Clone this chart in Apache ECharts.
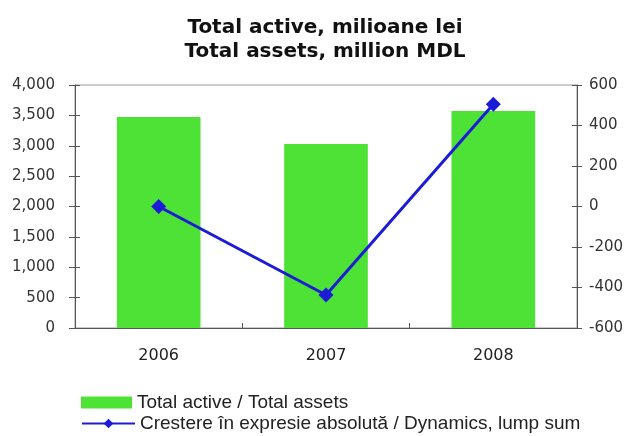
<!DOCTYPE html>
<html><head><meta charset="utf-8">
<script src="https://cdn.jsdelivr.net/npm/echarts@6/dist/echarts.min.js"></script>
<style>html,body{margin:0;padding:0;background:#fff}#c{width:632px;height:436px}</style>
</head><body><div id="c"></div>
<script>
const categories = ['2006', '2007', '2008'];
const totalAssets = [3475, 3030, 3570];
const dynamics = [0, -437, 505];
const leftTicks = { min: 0, max: 4000, interval: 500 };
const rightTicks = { min: -600, max: 600, interval: 200 };
const barName = 'Total active / Total assets';
const lineName = 'Crestere în expresie absolută / Dynamics, lump sum';

const chart = echarts.init(document.getElementById('c'));
const font = 'DejaVu Sans, Verdana, sans-serif';
const legendFont = 'Liberation Sans, Arial, sans-serif';
const axisCol = '#555';
const tickOnly = (pos, t) => ({
  type: 'value', min: t.min, max: t.max, interval: t.interval, position: pos, offset: 0,
  splitLine: { show: false }, axisLabel: { show: false },
  axisLine: { show: false, onZero: false },
  axisTick: { show: true, inside: true, length: 5, lineStyle: { color: axisCol } }
});
const legendText = { fontFamily: legendFont, fontSize: 19, color: '#222' };
chart.setOption({
  animation: false,
  textStyle: { fontFamily: font },
  title: {
    text: 'Total active, milioane lei\nTotal assets, million MDL',
    left: 320, top: 11, textAlign: 'center',
    textStyle: { fontFamily: font, fontWeight: 'bold', fontSize: 20, lineHeight: 24, color: '#111' }
  },
  grid: { left: 75, right: 55, top: 85, bottom: 108, show: true, borderColor: '#999', borderWidth: 1 },
  legend: [
    {
      left: 76, top: 391, itemWidth: 51, itemHeight: 12, itemGap: 4, padding: [2, 5],
      textStyle: legendText, data: [{ name: barName, icon: 'rect' }]
    },
    {
      left: 76, top: 412, itemWidth: 53, itemHeight: 12, padding: [2, 5],
      textStyle: legendText, data: [{ name: lineName }]
    }
  ],
  xAxis: [
    {
      type: 'category', data: categories,
      axisLine: { lineStyle: { color: axisCol } },
      axisTick: { length: 5, lineStyle: { color: axisCol } },
      axisLabel: { color: '#222', fontSize: 16, margin: 20, fontFamily: font }
    },
    {
      type: 'category', data: categories, position: 'bottom',
      axisLine: { show: false, onZero: false }, axisLabel: { show: false },
      axisTick: { show: true, inside: true, length: 5, lineStyle: { color: axisCol } }
    }
  ],
  yAxis: [
    {
      type: 'value', min: leftTicks.min, max: leftTicks.max, interval: leftTicks.interval,
      splitLine: { show: false },
      axisLine: { show: true, onZero: false, lineStyle: { color: axisCol } },
      axisTick: { show: true, length: 6, lineStyle: { color: axisCol } },
      axisLabel: { color: '#333', fontSize: 15, margin: 20, fontFamily: font, formatter: v => v.toLocaleString('en-US') }
    },
    {
      type: 'value', min: rightTicks.min, max: rightTicks.max, interval: rightTicks.interval, position: 'right',
      splitLine: { show: false },
      axisLine: { show: true, onZero: false, lineStyle: { color: axisCol } },
      axisTick: { show: true, length: 5, lineStyle: { color: axisCol } },
      axisLabel: { color: '#333', fontSize: 15, margin: 12, fontFamily: font }
    },
    tickOnly('left', leftTicks),
    tickOnly('right', rightTicks)
  ],
  series: [
    {
      name: barName, type: 'bar', data: totalAssets, barWidth: '50%',
      itemStyle: { color: '#4ee237' }
    },
    {
      name: lineName, type: 'line', yAxisIndex: 1, data: dynamics,
      symbol: 'diamond', symbolSize: 15,
      lineStyle: { color: '#1c1cd6', width: 3 },
      itemStyle: { color: '#1c1cd6' }
    }
  ]
});
</script></body></html>
